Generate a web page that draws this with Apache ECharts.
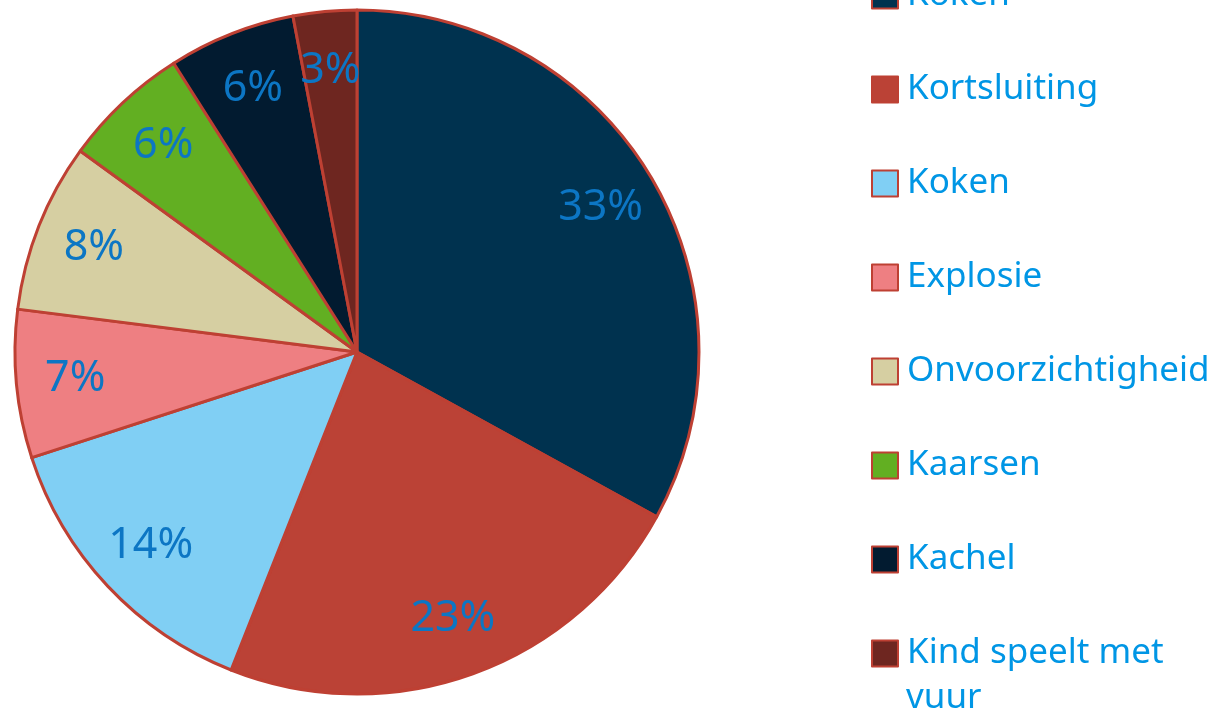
<!DOCTYPE html>
<html style="height: 100%">
<head>
<meta charset="utf-8">
</head>
<body style="height: 100%; margin: 0">
<div id="container" style="width: 1232px; height: 724px"></div>
<script src="https://cdn.jsdelivr.net/npm/echarts@6/dist/echarts.min.js"></script>
<script>
// oorzaken (legend order); second "Koken" gets a trailing space to stay unique
var names = ['Koken', 'Kortsluiting', 'Koken ', 'Explosie', 'Onvoorzichtigheid', 'Kaarsen', 'Kachel', 'Kind speelt met vuur'];
var values = [33, 23, 14, 7, 8, 6, 6, 3];
var colors = ['#00324f', '#bb4236', '#80cff4', '#ee7f82', '#d6cfa2', '#62af22', '#021b30', '#6e2620'];

var fontFam = '"Noto Sans", "Open Sans", sans-serif';
var legendColor = '#0096e5';
var dom = document.getElementById('container');
var myChart = echarts.init(dom);

var pieData = names.map(function (n, i) {
  return { name: n, value: values[i], itemStyle: { color: colors[i] } };
});
var labelData = names.map(function (n, i) {
  return { name: n, value: values[i] };
});

var option = {
  animation: false,
  legend: {
    orient: 'vertical',
    left: 871,
    top: -30,
    height: 900,
    padding: 0,
    itemWidth: 26,
    itemHeight: 26,
    itemGap: 43,
    icon: 'rect',
    data: names,
    formatter: function (name) {
      // last name wraps; second line is drawn as a graphic below
      if (name === 'Kind speelt met vuur') return 'Kind speelt met';
      return name.trim();
    },
    textStyle: {
      color: legendColor,
      fontFamily: fontFam,
      fontSize: 35,
      lineHeight: 51,
      padding: [0, 0, 0, 4]
    }
  },
  graphic: [{
    type: 'text',
    left: 906,
    top: 681,
    silent: true,
    style: {
      text: 'vuur',
      fill: legendColor,
      font: '35px ' + fontFam
    }
  }],
  series: [
    {
      type: 'pie',
      center: [357, 352],
      radius: 342,
      startAngle: 90,
      clockwise: true,
      silent: true,
      itemStyle: { borderColor: '#be4033', borderWidth: 3 },
      label: { show: false },
      labelLine: { show: false },
      data: pieData
    },
    {
      // transparent ring only used to place the percentage labels
      type: 'pie',
      center: [357, 352],
      radius: [218, 342],
      startAngle: 90,
      clockwise: true,
      silent: true,
      legendHoverLink: false,
      itemStyle: { color: 'rgba(0,0,0,0)', borderWidth: 0 },
      label: {
        show: true,
        position: 'inside',
        formatter: '{c}%',
        color: '#0c76c4',
        fontFamily: fontFam,
        fontSize: 43,
        textBorderWidth: 0
      },
      labelLine: { show: false },
      data: labelData
    }
  ]
};

myChart.setOption(option);
</script>
</body>
</html>
